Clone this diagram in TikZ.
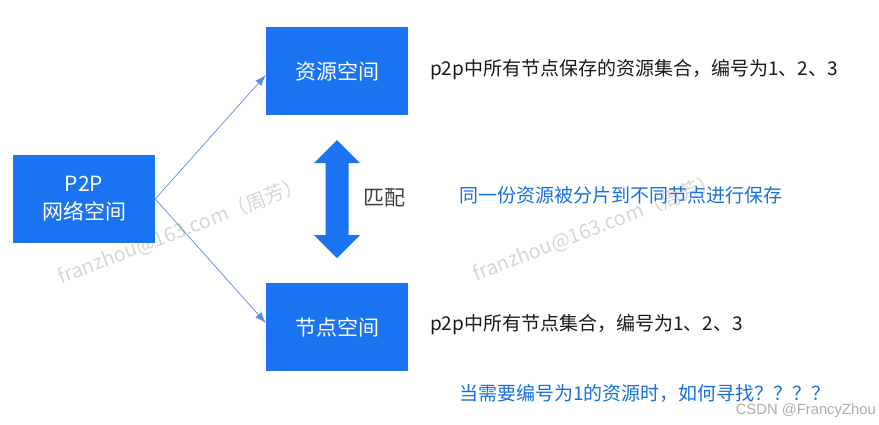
\documentclass[tikz,border=0pt]{standalone}
\usepackage{fontspec}
\setmainfont{Noto Sans CJK SC}
\newfontfamily\csdnfont{Liberation Sans}
\usetikzlibrary{arrows.meta}

\definecolor{boxblue}{HTML}{1A74F2}
\definecolor{textblue}{HTML}{1570DE}
\definecolor{lineblue}{HTML}{5A8CE0}
\definecolor{markgray}{HTML}{D6D6D6}

\tikzset{
  spacebox/.style={fill=boxblue, text=white, minimum width=142pt, minimum height=88pt,
    inner sep=0pt, font=\fontsize{21}{28}\selectfont, align=center},
  link/.style={lineblue, line width=0.7pt, -{Latex[length=11pt,width=8pt]}},
  note/.style={anchor=west, inner sep=0pt, text=black!90, font=\fontsize{19}{22}\selectfont},
  bluenote/.style={note, text=textblue},
  watermark/.style={text=markgray, rotate=21, inner sep=0pt, font=\fontsize{20}{22}\selectfont}
}

\begin{document}
\begin{tikzpicture}[x=1pt, y=-1pt]
                \useasboundingbox (0,0) rectangle (879,424);

                % Watermarks
                \node[watermark] (mark1) at (181,231) {franzhou@163.com（周芳）};
                \node[watermark] (mark2) at (596,228) {franzhou@163.com（周芳）};

                % Spaces
                \node[spacebox] (net) at (84,199) {P2P\\网络空间};
                \node[spacebox] (res) at (337,71) {资源空间};
                \node[spacebox] (peer) at (337,327) {节点空间};

                % Links
                \draw[link] (net.east) -- ([yshift=-4pt]res.west);
                \draw[link] (net.east) -- ([yshift=4pt]peer.west);

                % Matching arrow
                \fill[boxblue] (337,140) -- (360,163) -- (348.5,163) -- (348.5,235) -- (360,235)
                  -- (337,258) -- (314,235) -- (325.5,235) -- (325.5,163) -- (314,163) -- cycle;
                \node[note, text=black!75, font=\fontsize{21}{24}\selectfont] (match) at (363,198) {匹配};

                % Notes
                \node[note] (resnote) at (430,70) {p2p中所有节点保存的资源集合，编号为1、2、3};
                \node[bluenote] (splitnote) at (459,195) {同一份资源被分片到不同节点进行保存};
                \node[note] (peernote) at (430,325) {p2p中所有节点集合，编号为1、2、3};
                \node[bluenote] (asknote) at (459,393) {当需要编号为1的资源时，如何寻找？？？？};

                % Credit
                \node[anchor=east, inner sep=0pt, text=black!32, font=\csdnfont\fontsize{14.8}{16}\selectfont] (credit) at (876,411) {CSDN @FrancyZhou};
            \end{tikzpicture}
\end{document}
